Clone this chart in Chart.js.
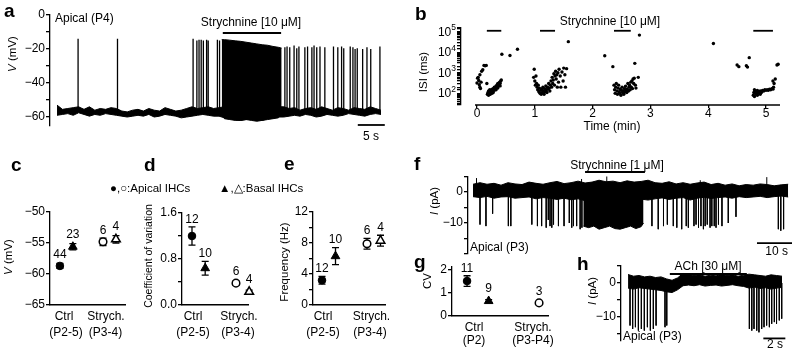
<!DOCTYPE html>
<html>
<head>
<meta charset="utf-8">
<script src="https://cdn.jsdelivr.net/npm/chart.js@4.4.1/dist/chart.umd.min.js"></script>
<style>
body { margin: 0; width: 800px; height: 352px; background: #fff; position: relative; overflow: hidden;
       font-family: "Liberation Sans", Arial, sans-serif; color: #000; }
canvas { position: absolute; left: 0; top: 0; }
.t { position: absolute; white-space: nowrap; font-size: 12px; line-height: 1; z-index: 2; }
.c { transform: translate(-50%, -50%); }
.l { transform: translate(0, -50%); }
.r { transform: translate(-50%, -50%) rotate(-90deg); font-size: 11.5px; }
.L { font-size: 19px; font-weight: bold; }
.s { font-size: 11.5px; }
</style>
</head>
<body>
<div class="t l L" style="left:4px;top:9.9px">a</div>
<div class="t l L" style="left:415px;top:13.4px">b</div>
<div class="t l L" style="left:11px;top:164px">c</div>
<div class="t l L" style="left:144px;top:164px">d</div>
<div class="t l L" style="left:284px;top:163px">e</div>
<div class="t l L" style="left:414px;top:163px">f</div>
<div class="t l L" style="left:414px;top:261px">g</div>
<div class="t l L" style="left:577px;top:263px">h</div>

<div class="t l" style="left:55px;top:18.3px">Apical (P4)</div>
<div class="t c" style="left:251px;top:22.3px">Strychnine [10 μM]</div>
<div class="t c" style="left:371px;top:135.8px">5 s</div>
<div class="t r" style="left:13px;top:54px"><i>V</i> (mV)</div>

<div class="t c" style="left:610px;top:20.8px">Strychnine [10 μM]</div>
<div class="t c" style="left:612px;top:126px">Time (min)</div>
<div class="t r" style="left:424px;top:72px">ISI (ms)</div>

<div class="t l s" style="left:110px;top:189px">●,○:Apical IHCs</div>
<div class="t l s" style="left:219px;top:189px">▲,△:Basal IHCs</div>

<div class="t r" style="left:9px;top:257px"><i>V</i> (mV)</div>
<div class="t c" style="left:64px;top:316px">Ctrl</div>
<div class="t c" style="left:66px;top:332.3px">(P2-5)</div>
<div class="t c" style="left:106px;top:316px">Strych.</div>
<div class="t c" style="left:105.5px;top:332.3px">(P3-4)</div>

<div class="t r" style="left:147.5px;top:256px;font-size:10.5px">Coefficient of variation</div>
<div class="t c" style="left:193px;top:316px">Ctrl</div>
<div class="t c" style="left:193px;top:332.3px">(P2-5)</div>
<div class="t c" style="left:239px;top:316px">Strych.</div>
<div class="t c" style="left:238px;top:332.3px">(P3-4)</div>

<div class="t r" style="left:285px;top:262px">Frequency (Hz)</div>
<div class="t c" style="left:323px;top:316px">Ctrl</div>
<div class="t c" style="left:323px;top:332.3px">(P2-5)</div>
<div class="t c" style="left:371.5px;top:316px">Strych.</div>
<div class="t c" style="left:370px;top:332.3px">(P3-4)</div>

<div class="t c" style="left:617px;top:165px">Strychnine [1 μM]</div>
<div class="t l" style="left:470px;top:246.8px">Apical (P3)</div>
<div class="t c" style="left:776.7px;top:250.8px">10 s</div>
<div class="t r" style="left:435px;top:201px"><i>I</i> (pA)</div>

<div class="t r" style="left:427.5px;top:281px">CV</div>
<div class="t c" style="left:474px;top:327px">Ctrl</div>
<div class="t c" style="left:474px;top:340px">(P2)</div>
<div class="t c" style="left:533px;top:327px">Strych.</div>
<div class="t c" style="left:533px;top:340px">(P3-P4)</div>

<div class="t c" style="left:708px;top:265.8px">ACh [30 μM]</div>
<div class="t l" style="left:623px;top:335.5px">Apical (P3)</div>
<div class="t c" style="left:775px;top:343.8px">2 s</div>
<div class="t r" style="left:593px;top:291px"><i>I</i> (pA)</div>

<script>
// ---- panel a: membrane potential (mV), noise envelope sampled every 1 s
var aHi = [-53, -55.5, -55, -54.5, -54, -55.5, -54, -56, -55, -55.5,
           -54.5, -55, -56.5, -57, -56, -55.5, -56.5, -55, -56, -56.5,
           -54.5, -55.5, -56.5, -56, -55, -54, -55, -54.5, -54, -55,
           -54.5, -54, -54, -54, -54, -54, -54, -54, -54, -54,
           -54, -54, -54, -55, -54.5, -56, -55, -54.5, -55.5, -54,
           -55, -56, -54.5, -55, -56, -54.5, -55, -55.5, -54, -55,
           -56];
var aLo = [-59, -58.5, -58, -59, -57.5, -58.5, -59.5, -58.5, -59, -58,
           -58.5, -59, -59.5, -60, -59.5, -59, -59.5, -58.5, -60, -59.5,
           -58.5, -59, -59.5, -60.5, -60, -59.5, -59, -58.5, -59, -59.5,
           -59.5, -60.5, -61, -61.5, -62, -61.5, -61, -61.5, -62, -61,
           -60.5, -60, -60, -59.5, -59, -59.5, -58.5, -59, -60, -59.5,
           -58.5, -59, -59.5, -59, -58, -58.5, -59, -59.5, -58.5, -58,
           -58.5];
var aBurstT = [30.5, 31, 32, 33, 34, 35, 36, 37, 38, 39, 40, 41, 41.6];
var aBurstTop = [-14.5, -14.5, -14.8, -15.2, -15.5, -16, -16.5, -17, -17.5, -17.8, -18.5, -19, -19.5];
var aBurstBot = [-58, -61, -61.5, -62, -62, -61.5, -62, -62.5, -62, -61.5, -61, -60.5, -58];
var aSpikeT = [3.9, 11.2, 25.2, 25.9, 26.3, 26.7, 27.1, 27.7, 28.0, 29.7, 30.1,
               42.2, 42.6, 43.1, 43.9, 44.4, 44.8, 45.9, 46.4, 47.2, 47.6, 48.1, 48.7, 49.6,
               51.2, 52.0, 52.7, 53.1, 54.3, 54.8, 55.2, 55.6, 56.6, 57.4, 58.1, 59.8];
var aSpikePeak = [-14, -14, -14, -15, -14.5, -14.5, -15, -14.5, -15, -14.5, -15,
                  -19, -18.5, -19, -18, -19.5, -18.5, -19, -18.5, -19, -18, -19, -18.5, -19,
                  -18.5, -19, -18.5, -19.5, -18.5, -19, -20, -19.5, -20, -19, -20, -18.5];

// ---- panel b: interspike intervals, time (min) and ISI (ms)
var isiT = [0.00, 0.01, 0.02, 0.03, 0.04, 0.05, 0.05, 0.06, 0.07, 0.08, 0.10, 0.12, 0.14, 0.16, 0.17,
  0.18, 0.19, 0.20, 0.20, 0.21, 0.22, 0.22, 0.23, 0.24, 0.24, 0.25, 0.26, 0.26, 0.27, 0.28, 0.28, 0.29,
  0.30, 0.30, 0.31, 0.32, 0.33, 0.33, 0.34, 0.35, 0.36, 0.36, 0.37, 0.38, 0.39, 0.40, 0.40, 0.41, 0.42,
  0.43, 0.57, 0.70,
  0.98, 0.99, 1.00, 1.01, 1.02, 1.03, 1.04, 1.05, 1.06, 1.07, 1.08, 1.09, 1.10, 1.11, 1.12, 1.13, 1.14,
  1.15, 1.16, 1.17, 1.18, 1.19, 1.20, 1.21, 1.22, 1.23, 1.24, 1.25, 1.26, 1.27, 1.28, 1.29, 1.30, 1.31,
  1.32, 1.33, 1.34, 1.35, 1.36, 1.37, 1.38, 1.39, 1.40, 1.41, 1.42, 1.44, 1.45, 1.47, 1.49, 1.50, 1.52,
  1.53, 1.55, 1.58,
  2.21, 2.35, 2.73, 2.79, 2.81,
  2.37, 2.38, 2.39, 2.40, 2.41, 2.42, 2.43, 2.44, 2.45, 2.46, 2.47, 2.48, 2.49, 2.50, 2.51, 2.52, 2.53,
  2.54, 2.55, 2.56, 2.57, 2.58, 2.59, 2.60, 2.61, 2.62, 2.63, 2.64, 2.65, 2.66, 2.67, 2.68, 2.69, 2.70,
  2.71, 2.72, 2.74, 2.75,
  4.09, 4.50, 4.53, 4.66, 4.68, 4.71, 5.12, 5.14, 5.16, 5.19, 5.21,
  4.78, 4.79, 4.80, 4.80, 4.81, 4.82, 4.83, 4.84, 4.85, 4.85, 4.86, 4.88, 4.90, 4.90, 4.92, 4.94, 4.96,
  4.98, 5.00, 5.02, 5.04, 5.06, 5.08, 5.10, 5.12, 5.13];
var isiMs = [320, 550, 600, 420, 260, 200, 800, 170, 350, 1200, 1400, 2300, 2200, 2300, 300,
  90, 110, 80, 130, 100, 120, 150, 90, 110, 140, 120, 100, 160, 130, 150, 110, 180,
  140, 200, 160, 190, 150, 230, 200, 260, 180, 300, 220, 280, 350, 300, 230, 400, 450,
  8000, 7000, 14000,
  600, 1500, 400, 250, 700, 300, 200, 150, 250, 120, 180, 100, 140, 90, 160, 110, 200,
  130, 90, 170, 120, 230, 150, 110, 200, 160, 300, 180, 130, 250, 400, 200, 600, 300,
  450, 900, 250, 700, 1200, 500, 800, 200, 1000, 350, 1500, 700, 200, 1100, 400, 1700, 800,
  200, 1600, 33000,
  6800, 2000, 2900, 600, 69000,
  250, 150, 100, 200, 300, 130, 90, 180, 250, 120, 100, 160, 80, 140, 200, 110, 130,
  90, 170, 120, 220, 140, 110, 160, 300, 130, 200, 250, 150, 350, 200, 400, 170, 500,
  300, 550, 250, 180,
  27000, 2400, 2000, 2200, 1900, 5500, 400, 300, 500, 2400, 2600,
  80, 110, 70, 150, 130, 100, 90, 120, 140, 80, 100, 120, 130, 90, 110, 140, 130,
  150, 140, 150, 140, 160, 150, 170, 160, 200];
var strychMin = [[0.17, 0.42], [1.09, 1.35], [2.37, 2.66], [4.78, 5.12]];
var isiDecades = [2, 3, 4, 5];

// ---- summary panels: apical ctrl, basal ctrl, apical strych, basal strych
var cMean = [-58.7, -55.6, -54.8, -54.4], cSem = [0.4, 0.5, 0.6, 0.6], cN = [44, 23, 6, 4];
var dMean = [1.2, 0.64, 0.38, 0.23], dSem = [0.16, 0.12, 0.04, 0.03], dN = [12, 10, 6, 4];
var eMean = [3.2, 6.3, 7.9, 8.3], eSem = [0.5, 1.1, 0.7, 0.7], eN = [12, 10, 6, 4];
var gMean = [1.52, 0.65, 0.57], gSem = [0.23, 0.06, 0.05], gN = [11, 9, 3];

// ---- panel f: current (pA), envelope every 2 s
var fHi = [2.5, 3, 2.5, 2.8, 2.2, 3, 2.6, 2.4, 3.2, 2.8, 2.5, 3, 3.4, 2.7, 3, 3.5, 2.9, 3.2, 3.8, 3.3,
           3.5, 3, 3.6, 3.2, 3.4, 3.8, 3, 2.8, 3.3, 2.6, 3, 2.5, 2.9, 3.2, 2.4, 2.8, 2.2, 2.6, 2, 2.4,
           2.2, 2.6, 2.4, 2, 2.3, 2.5];
var fLo = [-1.5, -1.8, -1.4, -2, -1.6, -1.5, -2, -1.8, -1.6, -2.2, -1.8, -2, -2.4, -2, -2.5, -2.2, -2.8, -2.5, -2.6, -3,
           -2.6, -2.2, -2.5, -2, -2.3, -2.6, -2.2, -1.9, -2.4, -2, -1.8, -2.6, -2, -1.7, -2.1, -1.8, -1.6, -2, -1.5, -1.8,
           -1.6, -1.4, -1.8, -1.5, -1.3, -1.6];
var fEvT = [2.0, 3.7, 5.6, 10.1, 10.8, 16.8, 18.4, 19.6, 20.9, 21.5, 22.0, 22.5, 23.0,
            24.4, 26.0, 27.5, 28.2, 28.7, 29.6, 30.6, 31.1,
            51.1, 52.9, 54.4, 55.5, 57.2, 58.2, 59.6, 60.9, 61.5,
            63.1, 63.7, 64.4, 65.1, 65.8, 66.3, 66.9, 67.7, 68.2, 68.9, 69.4, 70.1, 71.1, 72.9, 75.1,
            87.2, 87.9, 88.7];
var fEvDepth = [-10.5, -11, -7, -11, -11, -10.5, -11, -11, -11.5, -9, -11, -11.5, -10.5,
                -11, -11, -10, -11.5, -11, -11, -12, -11.5,
                -11, -12, -11, -10.5, -11, -11.5, -12, -11, -11.5,
                -11, -10.5, -11.5, -11, -12, -11, -10.5, -11.5, -11, -11, -11.5, -10.5, -11, -10, -8,
                -12, -12.5, -12];
var fDenseT = [31.5, 33, 34.5, 36, 37.5, 39, 40.5, 42, 43.5, 45, 46.5, 48, 48.7];
var fDenseLo = [-11, -11.5, -11, -12, -11.5, -11, -11.8, -12, -11.5, -11, -11.8, -11.2, -10];
var fUpT = [1.0, 31.0, 38.2, 49.5, 64.9, 83.9];
var fUpPeak = [4.5, 4.2, 7.5, 3.8, 3.8, 4.8];

// ---- panel h: current (pA), envelope every 0.5 s
var hHi = [2.5, 2, 2.2, 1.8, 2, 1.6, 1.8, 1.2, 0.8, 1.5, 2.8, 2.5, 2.2, 2.4, 2, 2.3, 2.1, 2.5, 2.2, 2.4,
           2, 2.3, 2.6, 2.4, 2.2, 2, 2.4, 2.2, 2];
var hLo = [-1.5, -1.8, -1.4, -1.6, -1.8, -2, -2.2, -2.6, -2.8, -2, -0.8, -0.6, -0.8, -0.5, -0.9, -0.7, -0.6, -0.9, -0.7, -0.5,
           -0.8, -1, -1.5, -1.2, -1.6, -1.4, -1.8, -1.5, -1.3];
var hEvT = [0.18, 0.42, 0.67, 0.94, 1.21, 1.48, 1.76, 2.03, 2.3, 2.55, 3.36, 3.52,
            11.03, 11.25, 11.45, 11.7, 11.9, 12.15, 12.36, 12.6, 12.85, 13.06, 13.3, 13.5, 13.75, 13.97];
var hEvDepth = [-12.5, -13.5, -13, -14, -13.5, -14, -13, -14, -13.5, -12.5, -13, -12.5,
                -13.5, -14, -13.5, -14, -14.5, -13.5, -13, -12.5, -13, -12, -11.5, -12, -11, -10.5];

Chart.defaults.font.family = '"Liberation Sans", Arial, sans-serif';
Chart.defaults.font.size = 12;
Chart.defaults.color = '#000';
Chart.defaults.animation = false;
Chart.defaults.events = [];
Chart.defaults.plugins.legend.display = false;
Chart.defaults.plugins.tooltip.enabled = false;

var FONT = '"Liberation Sans", Arial, sans-serif';

// error bars, n labels, power-of-ten labels and horizontal bars (drug / scale bars)
var deco = {
    id: 'deco',
    beforeDatasetsDraw: function (chart, args, o) {
        if (!o.errs) return;
        var ctx = chart.ctx, ys = chart.scales.y;
        ctx.save();
        ctx.strokeStyle = '#000';
        ctx.lineWidth = 1.3;
        chart.data.datasets.forEach(function (d, i) {
            var p = chart.getDatasetMeta(i).data[0];
            var t = ys.getPixelForValue(d.data[0].y + d.sem), b = ys.getPixelForValue(d.data[0].y - d.sem);
            ctx.beginPath();
            ctx.moveTo(p.x, t); ctx.lineTo(p.x, b);
            ctx.moveTo(p.x - 3.5, t); ctx.lineTo(p.x + 3.5, t);
            ctx.moveTo(p.x - 3.5, b); ctx.lineTo(p.x + 3.5, b);
            ctx.stroke();
        });
        ctx.restore();
    },
    afterDatasetsDraw: function (chart, args, o) {
        var ctx = chart.ctx, xs = chart.scales.x, ys = chart.scales.y;
        ctx.save();
        ctx.strokeStyle = '#000';
        ctx.fillStyle = '#000';
        (o.bars || []).forEach(function (s) {
            var y = ys.getPixelForValue(s.y);
            ctx.lineWidth = s.w || 1.8;
            ctx.beginPath();
            ctx.moveTo(xs.getPixelForValue(s.x0), y);
            ctx.lineTo(xs.getPixelForValue(s.x1), y);
            ctx.stroke();
        });
        if (o.errs) {
            ctx.font = '12px ' + FONT;
            ctx.textAlign = 'center';
            ctx.textBaseline = 'middle';
            chart.data.datasets.forEach(function (d, i) {
                var p = chart.getDatasetMeta(i).data[0];
                var top = Math.min(ys.getPixelForValue(d.data[0].y + d.sem), p.y - d.pointRadius);
                ctx.fillText(String(d.n), p.x, top - 7.5);
            });
        }
        if (o.decades) {
            var xr = chart.chartArea.left - 5;
            o.decades.forEach(function (e) {
                var y = ys.getPixelForValue(Math.pow(10, e));
                ctx.font = '8.5px ' + FONT;
                ctx.textAlign = 'right';
                ctx.textBaseline = 'middle';
                var w = ctx.measureText(String(e)).width;
                ctx.fillText(String(e), xr, y - 4);
                ctx.font = '12px ' + FONT;
                ctx.fillText('10', xr - w, y + 0.5);
            });
        }
        ctx.restore();
    }
};
Chart.register(deco);

function makeCanvas(id) {
    var c = document.createElement('canvas');
    c.id = id;
    c.width = 800;
    c.height = 352;
    document.body.appendChild(c);
    return c.getContext('2d');
}

// chart area given in page pixels; y axis box is 40 px wide
function area(l, t, r, b, xh) {
    return {left: l - 40, top: t, right: 800 - r, bottom: 352 - b - (xh || 0)};
}

function minus(v) { return v < 0 ? '\u2212' + Math.abs(v) : String(v); }

function yAxis(min, max, step, fmt) {
    return {
        min: min, max: max,
        afterFit: function (s) { s.width = 40; },
        border: {display: true, color: '#000', width: 1.3},
        grid: {display: true, drawOnChartArea: false, drawTicks: true, tickLength: 4, color: '#000', lineWidth: 1.3},
        ticks: {stepSize: step, padding: 1, autoSkip: false, includeBounds: false, callback: fmt}
    };
}

function xCat(min, max) {
    return {
        type: 'linear', min: min, max: max,
        afterFit: function (s) { s.height = 0; },
        border: {display: true, color: '#000', width: 1.5},
        grid: {display: false},
        ticks: {display: false}
    };
}

function pts(vals, step) {
    return vals.map(function (v, i) { return {x: i * step, y: v}; });
}
function pairs(ts, vs) {
    return ts.map(function (t, i) { return {x: t, y: vs[i]}; });
}
function events(ts, peaks, base) {
    var out = [];
    ts.forEach(function (t, i) {
        out.push({x: t, y: base}, {x: t, y: peaks[i]}, {x: t, y: null});
    });
    return out;
}
function line(data, extra) {
    return Object.assign({data: data, borderColor: '#000', backgroundColor: '#000', borderWidth: 1,
        pointRadius: 0, tension: 0, fill: false, spanGaps: false}, extra || {});
}

// --- a
new Chart(makeCanvas('a'), {
    type: 'line',
    data: {datasets: [
        line(pts(aHi, 1)),
        line(pts(aLo, 1), {fill: '-1'}),
        line(pairs(aBurstT, aBurstTop)),
        line(pairs(aBurstT, aBurstBot), {fill: '-1'}),
        line(events(aSpikeT, aSpikePeak, -56), {borderWidth: 1.3})
    ]},
    options: {
        responsive: false,
        layout: {padding: area(50, 15, 385, 125.5)},
        scales: {
            x: {type: 'linear', display: false, min: -1.3, max: 60.74},
            y: yAxis(-65, 0, 10, function (v) { return v % 20 === 0 ? minus(v) : ''; })
        },
        plugins: {deco: {bars: [{x0: 30.7, x1: 41.5, y: -10.6}, {x0: 55.7, x1: 60.7, y: -64.7}]}}
    }
});

// --- b
var bBars = strychMin.map(function (w) { return {x0: w[0], x1: w[1], y: 112000}; });
bBars.push({x0: -0.035, x1: 5.242, y: 27, w: 1.3});
var bY = yAxis(27, 153000, null, function () { return ''; });
bY.type = 'logarithmic';
new Chart(makeCanvas('b'), {
    type: 'scatter',
    data: {datasets: [{data: pairs(isiT, isiMs), pointRadius: 1.7, borderWidth: 0, backgroundColor: '#000'}]},
    options: {
        responsive: false,
        layout: {padding: area(461, 28, 780, 105, 20)},
        scales: {
            x: {type: 'linear', min: -0.277, max: 5.242,
                afterFit: function (s) { s.height = 20; },
                border: {display: false},
                grid: {display: true, drawOnChartArea: false, tickLength: 3, color: '#000', lineWidth: 1.3},
                ticks: {stepSize: 1, includeBounds: false, padding: -2, maxRotation: 0, autoSkip: false}},
            y: bY
        },
        plugins: {deco: {bars: bBars, decades: isiDecades}}
    }
});

// --- summary panels c, d, e, g
var groups = [
    {cat: 1, off: -0.08, style: 'circle', fill: true},
    {cat: 1, off: 0.22, style: 'triangle', fill: true},
    {cat: 2, off: -0.08, style: 'circle', fill: false},
    {cat: 2, off: 0.22, style: 'triangle', fill: false}
];
function summary(id, pad, xr, ya, mean, sem, n) {
    var ds = mean.map(function (m, i) {
        var g = groups[i];
        return {
            data: [{x: g.cat + g.off, y: m}], sem: sem[i], n: n[i],
            pointStyle: g.style, pointRadius: g.style === 'circle' ? 3.8 : 5,
            backgroundColor: g.fill ? '#000' : '#fff', borderColor: '#000',
            borderWidth: g.fill ? 1 : 1.5, clip: false
        };
    });
    new Chart(makeCanvas(id), {
        type: 'scatter',
        data: {datasets: ds},
        options: {responsive: false, layout: {padding: pad}, scales: {x: xr, y: ya},
            plugins: {deco: {errs: true}}}
    });
}
summary('c', area(50, 212, 125, 305), xCat(0.69, 2.43),
    yAxis(-65, -50, 5, minus), cMean, cSem, cN);
summary('d', area(182, 213, 248, 305), xCat(0.693, 2.193),
    yAxis(0, 1.6, 0.4, function (v) { return Math.round(v * 10) % 8 === 0 ? v.toFixed(1) : ''; }), dMean, dSem, dN);
summary('e', area(313, 212, 385, 305), xCat(0.72, 2.32),
    yAxis(0, 12, 2, function (v) { return v % 4 === 0 ? String(v) : ''; }), eMean, eSem, eN);
summary('g', area(452, 267, 548, 316), xCat(0.711, 2.044),
    yAxis(0, 2.13, 1, String), gMean, gSem, gN);

// --- f
new Chart(makeCanvas('f'), {
    type: 'line',
    data: {datasets: [
        line(pts(fHi, 2)),
        line(pts(fLo, 2), {fill: '-1'}),
        line(pairs(fDenseT, fDenseLo), {fill: {value: 0}}),
        line(events(fEvT, fEvDepth, 0)),
        line(events(fUpT, fUpPeak, 0))
    ]},
    options: {
        responsive: false,
        layout: {padding: area(468, 176.5, 792, 254)},
        scales: {
            x: {type: 'linear', display: false, min: -1.43, max: 91.1},
            y: yAxis(-20, 5, 5, function (v) { return v === 0 || v === -10 ? minus(v) : ''; })
        },
        plugins: {deco: {bars: [{x0: 32.0, x1: 49.1, y: 6.45}, {x0: 81.1, x1: 91.1, y: -16.5}]}}
    }
});

// --- h
new Chart(makeCanvas('h'), {
    type: 'line',
    data: {datasets: [
        line(pts(hHi, 0.5)),
        line(pts(hLo, 0.5), {fill: '-1'}),
        line(events(hEvT, hEvDepth, 0))
    ]},
    options: {
        responsive: false,
        layout: {padding: area(621, 266, 786, 340.8)},
        scales: {
            x: {type: 'linear', display: false, min: -0.64, max: 14.36},
            y: yAxis(-17, 5, 5, function (v) { return v === 0 || v === -10 ? minus(v) : ''; })
        },
        plugins: {deco: {bars: [{x0: 3.8, x1: 10.8, y: 2.65}, {x0: 12.3, x1: 14.3, y: -16.3}]}}
    }
});
</script>
</body>
</html>
